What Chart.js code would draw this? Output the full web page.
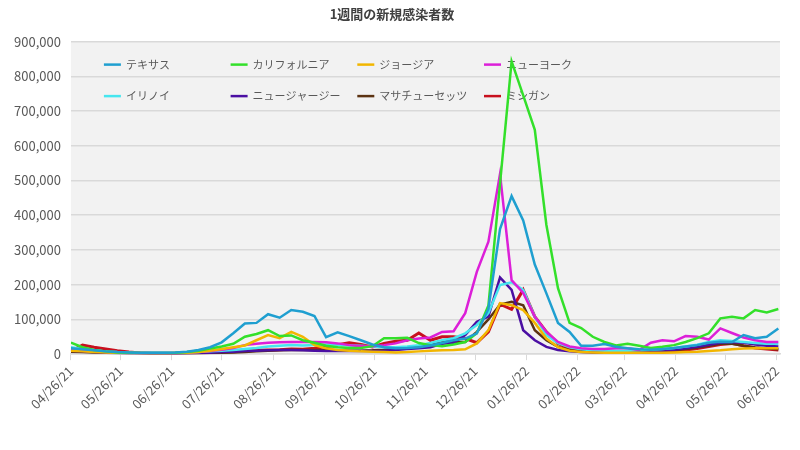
<!DOCTYPE html>
<html>
<head>
<meta charset="utf-8">
<script src="https://cdn.jsdelivr.net/npm/chart.js@4/dist/chart.umd.min.js"></script>
<style>
  html, body { margin: 0; padding: 0; background: #fff; }
  #wrap { width: 800px; height: 450px; }
</style>
</head>
<body>
<div id="wrap"><canvas id="weeklyChart" width="800" height="450"></canvas></div>
<script>
// weekly data, first week starts 2021-04-26
const startDate = "04/26/21";
const weekCount = 62;

const tickLabels = ["04/26/21","05/26/21","06/26/21","07/26/21","08/26/21","09/26/21","10/26/21",
  "11/26/21","12/26/21","01/26/22","02/26/22","03/26/22","04/26/22","05/26/22","06/26/22"];

const seriesNames = ["テキサス","カリフォルニア","ジョージア","ニューヨーク","イリノイ","ニュージャージー","マサチューセッツ","ミシガン"];
const seriesColors = ["#1f9fd0","#33e02a","#f2b600","#dc1fd8","#46e6ef","#4b0fa3","#5c3312","#c8101e"];

const texas = [17000,14000,11000,8000,6000,5000,4000,4000,4000,5000,7000,12000,20000,34000,60000,88000,90000,115000,105000,127000,
  122000,110000,49000,63000,52000,40000,28000,20000,17000,18000,20000,25000,32000,40000,45000,60000,130000,360000,455000,385000,
  258000,175000,90000,64000,24000,24000,29000,21000,17000,14000,13000,15000,18000,22000,26000,33000,36000,35000,55000,46000,
  50000,74000];
const california = [33000,20000,12000,8000,5000,4000,3000,3000,3000,4000,6000,10000,16000,22000,30000,50000,58000,69000,52000,54000,
  40000,33000,24000,20000,18000,18000,23000,46000,46000,47000,32000,26000,23000,28000,35000,60000,140000,490000,843000,745000,
  646000,372000,190000,90000,75000,50000,35000,25000,30000,24000,18000,21000,26000,35000,46000,60000,103000,108000,103000,127000,
  120000,130000];
const georgia = [10000,8000,6000,5000,4000,3000,3000,2000,2000,3000,4000,6000,10000,15000,20000,25000,40000,55000,46000,64000,
  50000,26000,17000,12000,10000,8000,7000,6000,5000,6000,8000,10000,11000,12000,14000,31000,69000,147000,141000,127000,
  90000,45000,20000,10000,6000,5000,4000,4000,4000,4000,4000,4000,5000,6000,7000,9000,11000,14000,16000,17000,
  17000,17000];
const newYork = [12000,10000,8000,6000,5000,4000,3000,3000,3000,3000,4000,6000,9000,13000,18000,26000,30000,33000,34000,35000,
  35000,35000,34000,31000,26000,23000,23000,26000,31000,40000,45000,48000,64000,66000,118000,237000,324000,519000,213000,176000,
  108000,64000,35000,22000,17000,15000,15000,17000,17000,12000,33000,40000,37000,52000,50000,42000,74000,61000,48000,40000,
  35000,35000];
const illinois = [20000,15000,11000,8000,6000,5000,4000,4000,4000,4000,5000,6000,8000,10000,12000,15000,18000,22000,24000,26000,
  25000,26000,28000,26000,25000,24000,22000,20000,20000,22000,26000,32000,40000,46000,60000,84000,118000,199000,207000,185000,
  108000,55000,32000,20000,14000,11000,10000,10000,10000,11000,13000,15000,18000,22000,27000,35000,40000,38000,35000,32000,
  30000,30000];
const newJersey = [10000,8000,6000,4000,3000,2000,2000,1000,1000,1000,2000,3000,4000,6000,7000,9000,10000,11000,12000,12000,
  11000,10000,9000,9000,9000,9000,9000,10000,12000,15000,17000,20000,30000,33000,55000,93000,108000,221000,185000,69000,
  40000,21000,12000,8000,6000,5000,5000,5000,5000,6000,8000,10000,13000,17000,21000,27000,33000,35000,33000,28000,
  24000,22000];
const massachusetts = [7000,6000,5000,4000,3000,2000,2000,1000,1000,1000,1000,2000,3000,4000,5000,6000,8000,10000,11000,12000,
  12000,12000,11000,10000,10000,10000,11000,13000,16000,18000,20000,25000,38000,35000,35000,64000,100000,143000,151000,141000,
  69000,40000,21000,12000,8000,6000,5000,5000,5000,6000,8000,10000,12000,15000,19000,24000,30000,30000,24000,19000,
  16000,14000];
const michigan = [8000,26000,20000,15000,10000,6000,3000,2000,2000,2000,3000,4000,5000,6000,7000,9000,11000,12000,13000,15000,
  14000,17000,21000,27000,33000,28000,21000,31000,37000,40000,61000,40000,50000,50000,45000,33000,64000,144000,129000,185000,
  108000,64000,31000,16000,10000,7000,6000,5000,5000,6000,6000,7000,9000,12000,16000,22000,28000,31000,24000,18000,
  15000,12000];

const seriesValues = [texas, california, georgia, newYork, illinois, newJersey, massachusetts, michigan];

function parseMDY(s){
  const [m, d, y] = s.split("/").map(Number);
  return Date.UTC(2000 + y, m - 1, d);
}
const dayMs = 86400000;
const t0 = parseMDY(startDate);
const dayOf = s => Math.round((parseMDY(s) - t0) / dayMs);

const weekDays = [];
for(let i=0;i<weekCount;i++) weekDays.push(i*7);
const tickDays = tickLabels.map(dayOf);

Chart.defaults.font.family = "'Noto Sans CJK JP', 'Noto Sans', sans-serif";
Chart.defaults.color = "#595959";

const plotBackground = {
  id: "plotBackground",
  beforeDraw(chart){
    const {ctx, chartArea} = chart;
    ctx.save();
    ctx.fillStyle = "#ffffff";
    ctx.fillRect(0, 0, chart.width, chart.height);
    ctx.fillStyle = "#f2f2f2";
    ctx.fillRect(chartArea.left, chartArea.top, chartArea.right - chartArea.left, chartArea.bottom - chartArea.top);
    ctx.restore();
  }
};

// legend sits inside the plot, 4 columns x 2 rows, under the lines
const insideLegend = {
  id: "insideLegend",
  beforeDatasetsDraw(chart){
    const {ctx, chartArea} = chart;
    ctx.save();
    ctx.font = "11px 'Noto Sans CJK JP', sans-serif";
    ctx.textBaseline = "middle";
    chart.data.datasets.forEach((ds, i) => {
      const col = i % 4;
      const row = Math.floor(i / 4);
      const x = chartArea.left + 33 + col * 126.7;
      const y = chartArea.top + 23 + row * 31.5;
      ctx.strokeStyle = ds.borderColor;
      ctx.lineWidth = 2.5;
      ctx.beginPath();
      ctx.moveTo(x, y);
      ctx.lineTo(x + 17, y);
      ctx.stroke();
      ctx.fillStyle = "#595959";
      ctx.fillText(ds.label, x + 22, y);
    });
    ctx.restore();
  }
};

const datasets = seriesNames.map((name, i) => ({
  label: name,
  data: seriesValues[i].map((v, k) => ({x: weekDays[k], y: v})),
  borderColor: seriesColors[i],
  backgroundColor: seriesColors[i],
  borderWidth: i === 7 ? 3 : 2.5,
  pointRadius: 0,
  tension: 0,
  fill: false
}));

new Chart(document.getElementById("weeklyChart"), {
  type: "line",
  data: { datasets },
  options: {
    responsive: false,
    devicePixelRatio: 1,
    animation: false,
    layout: { padding: { left: 4, right: 20, top: 0, bottom: 35 } },
    plugins: {
      legend: { display: false },
      tooltip: { enabled: false },
      title: {
        display: true,
        text: "1週間の新規感染者数",
        color: "#404040",
        font: { size: 13, weight: "bold" },
        padding: { top: 6, bottom: 20 }
      }
    },
    scales: {
      x: {
        type: "linear",
        min: 0,
        max: 428,
        afterBuildTicks(axis){
          axis.ticks = tickDays.map(v => ({value: v}));
        },
        ticks: {
          autoSkip: false,
          maxRotation: 45,
          minRotation: 45,
          font: { size: 13 },
          color: "#595959",
          callback: (value) => tickLabels[tickDays.indexOf(value)]
        },
        grid: { drawOnChartArea: false, drawTicks: true, tickLength: 6, color: "#d9d9d9" },
        border: { display: true, color: "#d9d9d9", width: 1.5 }
      },
      y: {
        min: 0,
        max: 900000,
        ticks: {
          stepSize: 100000,
          font: { size: 13 },
          color: "#595959",
          padding: 10,
          callback: (value) => value.toLocaleString("en-US")
        },
        grid: { color: "#d9d9d9", lineWidth: 1.5, drawTicks: false },
        border: { display: false }
      }
    }
  },
  plugins: [plotBackground, insideLegend]
});
</script>
</body>
</html>
